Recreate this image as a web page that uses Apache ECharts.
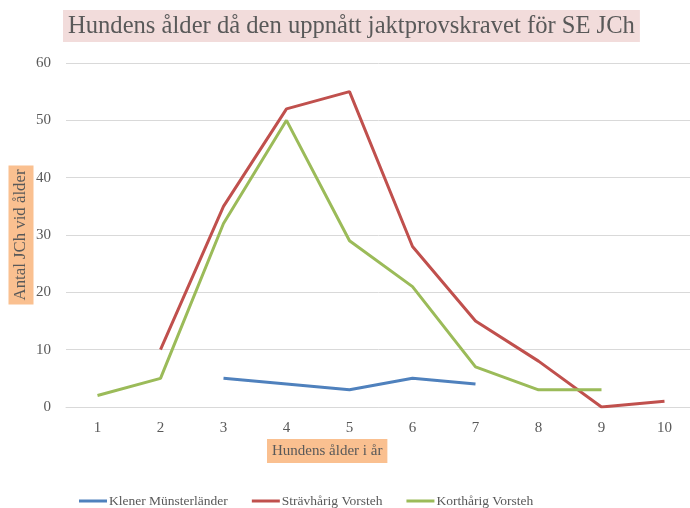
<!DOCTYPE html>
<html>
<head>
<meta charset="utf-8">
<script src="https://cdn.jsdelivr.net/npm/echarts@6/dist/echarts.min.js"></script>
<style>
  html, body { margin: 0; padding: 0; background: #fff; }
  #chart { width: 690px; height: 508px; }
</style>
</head>
<body>
<div id="chart"></div>
<script>
var ages = ['1', '2', '3', '4', '5', '6', '7', '8', '9', '10'];
var klener = [null, null, 5, 4, 3, 5, 4, null, null, null];
var stravharig = [null, 10, 35, 52, 55, 28, 15, 8, 0, 1];
var korthharig = [2, 5, 32, 50, 29, 21, 7, 3, 3, null];
var yTicks = [0, 10, 20, 30, 40, 50, 60];

var font = 'Liberation Serif';
var grey = '#595959';

var makeSerie = function(name, data, color) {
  return {
    name: name,
    type: 'line',
    data: data,
    symbol: 'none',
    connectNulls: false,
    lineStyle: { width: 3, color: color },
    itemStyle: { color: color }
  };
};

var chart = echarts.init(document.getElementById('chart'));
chart.setOption({
  animation: false,
  textStyle: { fontFamily: font },
  title: {
    text: 'Hundens ålder då den uppnått jaktprovskravet för SE JCh',
    left: 63,
    top: 10,
    padding: [4, 5, 3, 5],
    backgroundColor: '#f2dcdb',
    textStyle: { fontFamily: font, fontSize: 24.6, fontWeight: 'normal', color: grey }
  },
  grid: { left: 66, width: 630, top: 63, bottom: 101, outerBoundsMode: 'none' },
  xAxis: {
    type: 'category',
    data: ages,
    boundaryGap: true,
    axisLine: { show: true, lineStyle: { color: '#d9d9d9', width: 1 } },
    axisTick: { show: false },
    axisLabel: { color: grey, fontSize: 15, margin: 14, fontFamily: font }
  },
  yAxis: {
    type: 'value',
    min: yTicks[0],
    max: yTicks[yTicks.length - 1],
    interval: 10,
    name: 'Antal JCh vid ålder',
    nameLocation: 'middle',
    nameRotate: 90,
    nameGap: 32.5,
    nameMoveOverlap: false,
    nameTextStyle: {
      fontFamily: font, fontSize: 16.8, color: grey,
      backgroundColor: '#fac090', padding: [4, 4, 4, 4]
    },
    axisLine: { show: false },
    axisTick: { show: false },
    splitLine: { lineStyle: { color: '#d9d9d9', width: 1 } },
    axisLabel: { color: grey, fontSize: 15, margin: 15, fontFamily: font }
  },
  graphic: [{
    type: 'text',
    left: 267,
    top: 439,
    style: {
      text: 'Hundens ålder i år',
      fontFamily: font,
      fontSize: 15,
      fill: grey,
      backgroundColor: '#fac090',
      padding: [5, 5, 4, 5]
    }
  }],
  legend: {
    left: 79,
    top: 494,
    padding: 0,
    itemWidth: 28,
    itemHeight: 3,
    itemGap: 24,
    icon: 'rect',
    textStyle: { fontFamily: font, fontSize: 13.5, color: grey, padding: [2, 0, 0, -3] },
    data: ['Klener Münsterländer', 'Strävhårig Vorsteh', 'Korthårig Vorsteh']
  },
  series: [
    makeSerie('Klener Münsterländer', klener, '#4f81bd'),
    makeSerie('Strävhårig Vorsteh', stravharig, '#c0504d'),
    makeSerie('Korthårig Vorsteh', korthharig, '#9bbb59')
  ]
});
</script>
</body>
</html>
